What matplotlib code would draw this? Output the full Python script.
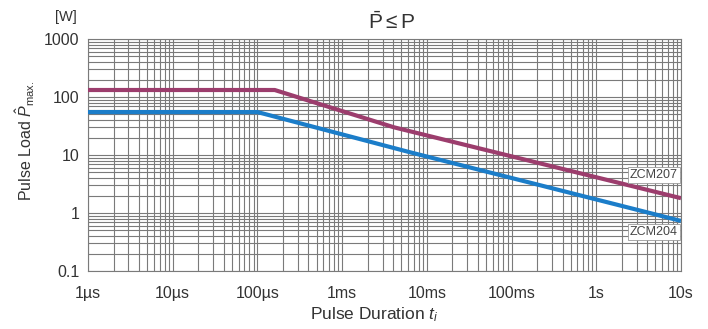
import matplotlib
matplotlib.use("Agg")
import matplotlib.pyplot as plt
from matplotlib.ticker import LogLocator, FixedLocator, NullFormatter

plt.rcParams['font.family'] = ['Liberation Sans', 'DejaVu Sans']
plt.rcParams['mathtext.fontset'] = 'custom'
plt.rcParams['mathtext.rm'] = 'Liberation Sans'
plt.rcParams['mathtext.it'] = 'Liberation Sans:italic'

# -------------------------------
# Datos (duracion en s, carga en W)
t_zcm207 = [1e-6, 1.6e-4, 4.1e-3, 10]
p_zcm207 = [132, 132, 30, 1.8]
t_zcm204 = [1e-6, 1.0e-4, 6.1e-3, 10]
p_zcm204 = [55, 55, 11.3, 0.73]

x_ticks = [1e-6, 1e-5, 1e-4, 1e-3, 1e-2, 1e-1, 1, 10]
x_labels = ["1µs", "10µs", "100µs", "1ms", "10ms", "100ms", "1s", "10s"]
y_ticks = [0.1, 1, 10, 100, 1000]
y_labels = ["0.1", "1", "10", "100", "1000"]

color_207 = '#9c3d6d'
color_204 = '#1b7dc9'
gris = '#7a7a7a'

fig = plt.figure(figsize=(7.08, 3.29), dpi=100)
ax = fig.add_axes([88/708, 1-271/329, (681-88)/708, (271-39)/329])

ax.set_xscale('log')
ax.set_yscale('log')
ax.set_xlim(1e-6, 10)
ax.set_ylim(0.1, 1000)

ax.plot(t_zcm207, p_zcm207, color=color_207, lw=3, solid_capstyle='butt', zorder=3)
ax.plot(t_zcm204, p_zcm204, color=color_204, lw=3, solid_capstyle='butt', zorder=3)

# rejilla mayor y menor
ax.xaxis.set_major_locator(FixedLocator(x_ticks))
ax.set_xticklabels(x_labels)
ax.yaxis.set_major_locator(FixedLocator(y_ticks))
ax.set_yticklabels(y_labels)
ax.xaxis.set_minor_locator(LogLocator(base=10, subs=range(2, 10), numticks=20))
ax.yaxis.set_minor_locator(LogLocator(base=10, subs=range(2, 10), numticks=20))
ax.xaxis.set_minor_formatter(NullFormatter())
ax.yaxis.set_minor_formatter(NullFormatter())
ax.grid(True, which='both', color=gris, lw=0.8)
ax.tick_params(which='both', length=0, labelsize=11.5, colors='#333333')
ax.tick_params(axis='x', pad=11)
ax.tick_params(axis='y', pad=6)
for s in ax.spines.values():
    s.set_color(gris)
    s.set_linewidth(0.8)

# etiquetas de las curvas
caja = dict(boxstyle='square,pad=0.15', facecolor='white', edgecolor='#999999', lw=0.6)
ax.text(0.995, 1-(175-39)/232, "ZCM207", transform=ax.transAxes, ha='right', va='center',
        fontsize=9, color='#444444', bbox=caja, zorder=4)
ax.text(0.995, 1-(232-39)/232, "ZCM204", transform=ax.transAxes, ha='right', va='center',
        fontsize=9, color='#444444', bbox=caja, zorder=4)

# textos
fig.text(392/708, 1-22/329, r"$\bar{\mathrm{P}}\leq\mathrm{P}$", ha='center', va='center',
         fontsize=15, color='#333333')
fig.text(66/708, 1-17/329, "[W]", ha='center', va='center', fontsize=10.5, color='#333333')
fig.text(25/708, 1-141/329, r"Pulse Load $\hat{P}_{\mathrm{max.}}$", rotation=90,
         ha='center', va='center', fontsize=11.5, color='#333333')
fig.text(374/708, 1-315/329, r"Pulse Duration $t_{i}$", ha='center', va='center',
         fontsize=12.5, color='#333333')

fig.savefig("out.png", dpi=100)
